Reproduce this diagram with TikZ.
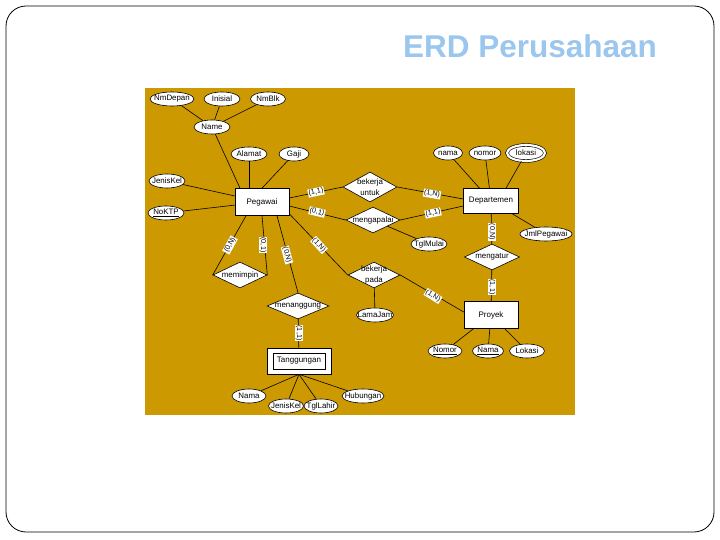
\documentclass[tikz,border=0pt]{standalone}
\usepackage{fontspec}
\setmainfont{Liberation Sans}
\usetikzlibrary{shapes.geometric,calc}
\definecolor{gold}{RGB}{204,153,0}
\definecolor{titleblue}{RGB}{155,198,238}
\newcommand\mkz[1]{\makebox[0pt][c]{#1}}
\newcommand\twol[2]{\vbox{\baselineskip=10.5pt\hbox to 0pt{\hss #1\hss}\hbox to 0pt{\hss #2\hss}}}
\begin{document}
\begin{tikzpicture}[x=1pt,y=-1pt,
  ent/.style={draw, fill=white, inner sep=0pt, line width=0.6pt, font=\fontsize{8}{9}\selectfont},
  attr/.style={draw, ellipse, fill=white, inner sep=0pt, minimum height=14, line width=0.6pt, font=\fontsize{7.9}{8.5}\selectfont},
  rel/.style={draw, diamond, fill=white, inner sep=0pt, aspect=2, line width=0.6pt, font=\fontsize{7.9}{8.5}\selectfont},
  card/.style={fill=white, inner sep=0.7pt, font=\fontsize{7.2}{7.5}\selectfont},
  conn/.style={line width=0.6pt}]
\useasboundingbox (0,0) rectangle (720,540);
\draw[line width=0.8pt, rounded corners=20] (6,6) rectangle (714,532);
\node[anchor=base, text=titleblue, font=\bfseries\fontsize{31.5}{36}\selectfont] (title) at (530,58) {ERD Perusahaan};
\fill[gold] (145,88) rectangle (575,415);

% entities
\node[ent, minimum width=54, minimum height=27] (peg) at (262,202) {Pegawai};
\node[ent, minimum width=55, minimum height=25] (dep) at (491,201) {Departemen};
\node[ent, minimum width=54, minimum height=27] (pro) at (491,315) {Proyek};
\node[ent, minimum width=64, minimum height=26] (tg) at (299,361) {};
\node[ent, minimum width=52, minimum height=16] (tgi) at (299,361) {Tanggungan};

% attributes
\node[attr, minimum width=44] (nmd) at (172,99) {\mkz{NmDepan}};
\node[attr, minimum width=36] (ini) at (222,99) {\mkz{Inisial}};
\node[attr, minimum width=35] (nmb) at (268,99) {\mkz{NmBlk}};
\node[attr, minimum width=36] (name) at (212,127) {\mkz{Name}};
\node[attr, minimum width=36] (alm) at (249,154) {\mkz{Alamat}};
\node[attr, minimum width=30] (gaji) at (294,154) {\mkz{Gaji}};
\node[attr, minimum width=36] (jk) at (167,181) {\mkz{JenisKel}};
\node[attr, minimum width=36] (ktp) at (166,213) {\mkz{\underline{NoKTP}}};
\node[attr, minimum width=29] (nama) at (448,153) {\mkz{nama}};
\node[attr, minimum width=32] (nomor) at (485,153) {\mkz{nomor}};
\node[attr, double, double distance=2.2pt, minimum width=38, minimum height=16] (lok) at (526,153) {\mkz{lokasi}};
\node[attr, minimum width=52] (jml) at (546,234) {\mkz{JmlPegawai}};
\node[attr, minimum width=36] (tgm) at (429,244) {\mkz{TglMulai}};
\node[attr, minimum width=37] (lj) at (375,315) {\mkz{LamaJam}};
\node[attr, minimum width=34] (pnom) at (445,351) {\mkz{\underline{Nomor}}};
\node[attr, minimum width=31] (pnam) at (488,351) {\mkz{\underline{Nama}}};
\node[attr, minimum width=35] (plok) at (527,351) {\mkz{Lokasi}};
\node[attr, minimum width=34] (tnama) at (249,396) {\mkz{Nama}};
\node[attr, minimum width=35] (tjk) at (286,406) {\mkz{JenisKel}};
\node[attr, minimum width=34] (ttl) at (321,406) {\mkz{TglLahir}};
\node[attr, minimum width=42] (thub) at (363,396) {\mkz{Hubungan}};

% relationships
\node[rel, minimum width=54, minimum height=30] (bu) at (370,187) {\twol{bekerja}{untuk}};
\node[rel, minimum width=54, minimum height=26] (mgp) at (373,220) {\mkz{mengapalai}};
\node[rel, minimum width=52, minimum height=26] (bp) at (374,275) {\twol{bekerja}{pada}};
\node[rel, minimum width=55, minimum height=26] (mgt) at (492,257) {\mkz{mengatur}};
\node[rel, minimum width=54, minimum height=26] (mem) at (240,275) {\mkz{memimpin}};
\node[rel, minimum width=62, minimum height=26] (mng) at (298,306) {\mkz{menanggung}};

% connectors: attributes
\draw[conn] (nmd) -- (name);
\draw[conn] (ini) -- (name);
\draw[conn] (nmb) -- (name);
\draw[conn] (name) -- ([xshift=-22pt]peg.north);
\draw[conn] (alm) -- ([xshift=-13pt]peg.north);
\draw[conn] (gaji) -- (peg.north);
\draw[conn] (jk) -- (peg);
\draw[conn] (ktp) -- (peg);
\draw[conn] (nama) -- (dep);
\draw[conn] (nomor) -- (dep);
\draw[conn] (lok) -- ([xshift=15pt]dep.north);
\draw[conn] (jml) -- (dep);
\draw[conn] (mgp) -- (tgm);
\draw[conn] (bp) -- (lj);
\draw[conn] (pnom) -- (pro);
\draw[conn] (pnam) -- (pro);
\draw[conn] (plok) -- (pro);
\draw[conn] (tnama) -- (tg.south);
\draw[conn] (tjk) -- (tg.south);
\draw[conn] (ttl) -- (tg.south);
\draw[conn] (thub) -- (tg.south);

% connectors: relationships
\draw[conn] ([yshift=4pt]peg.east) -- (bu.west);
\draw[conn] (bu.east) -- ([yshift=2pt]dep.west);
\draw[conn] ([yshift=-4pt]peg.east) -- (mgp.west);
\draw[conn] (mgp.east) -- ([yshift=-5pt]dep.west);
\draw[conn] ([yshift=2pt]peg.south east) -- (bp.west);
\draw[conn] (bp.east) -- ([yshift=3pt]pro.west);
\draw[conn] (dep) -- (mgt);
\draw[conn] (mgt) -- (pro);
\draw[conn] ([xshift=-16pt]peg.south) -- (mem.west);
\draw[conn] (peg.south) -- (mem.east);
\draw[conn] ([xshift=15pt]peg.south) -- (mng.north);
\draw[conn] (mng) -- (tg);

% cardinalities
\node[card, rotate=12] (c1) at (316,192) {(1,1)};
\node[card, rotate=-10] (c2) at (432,194) {(1,N)};
\node[card, rotate=-13] (c3) at (317,212) {(0,1)};
\node[card, rotate=12] (c4) at (433,213) {(1,1)};
\node[card, rotate=-47] (c5) at (319,245) {(1,N)};
\node[card, rotate=-32] (c6) at (433,296) {(1,N)};
\node[card, rotate=-90] (c7) at (492,232) {(0,N)};
\node[card, rotate=-90] (c8) at (492,287) {(1,1)};
\node[card, rotate=61] (c9) at (230,245) {(0,N)};
\node[card, rotate=-90] (c10) at (263,245) {(0,1)};
\node[card, rotate=-75] (c11) at (287,255) {(0,N)};
\node[card, rotate=-90] (c12) at (299,333) {(1,1)};
\end{tikzpicture}
\end{document}
